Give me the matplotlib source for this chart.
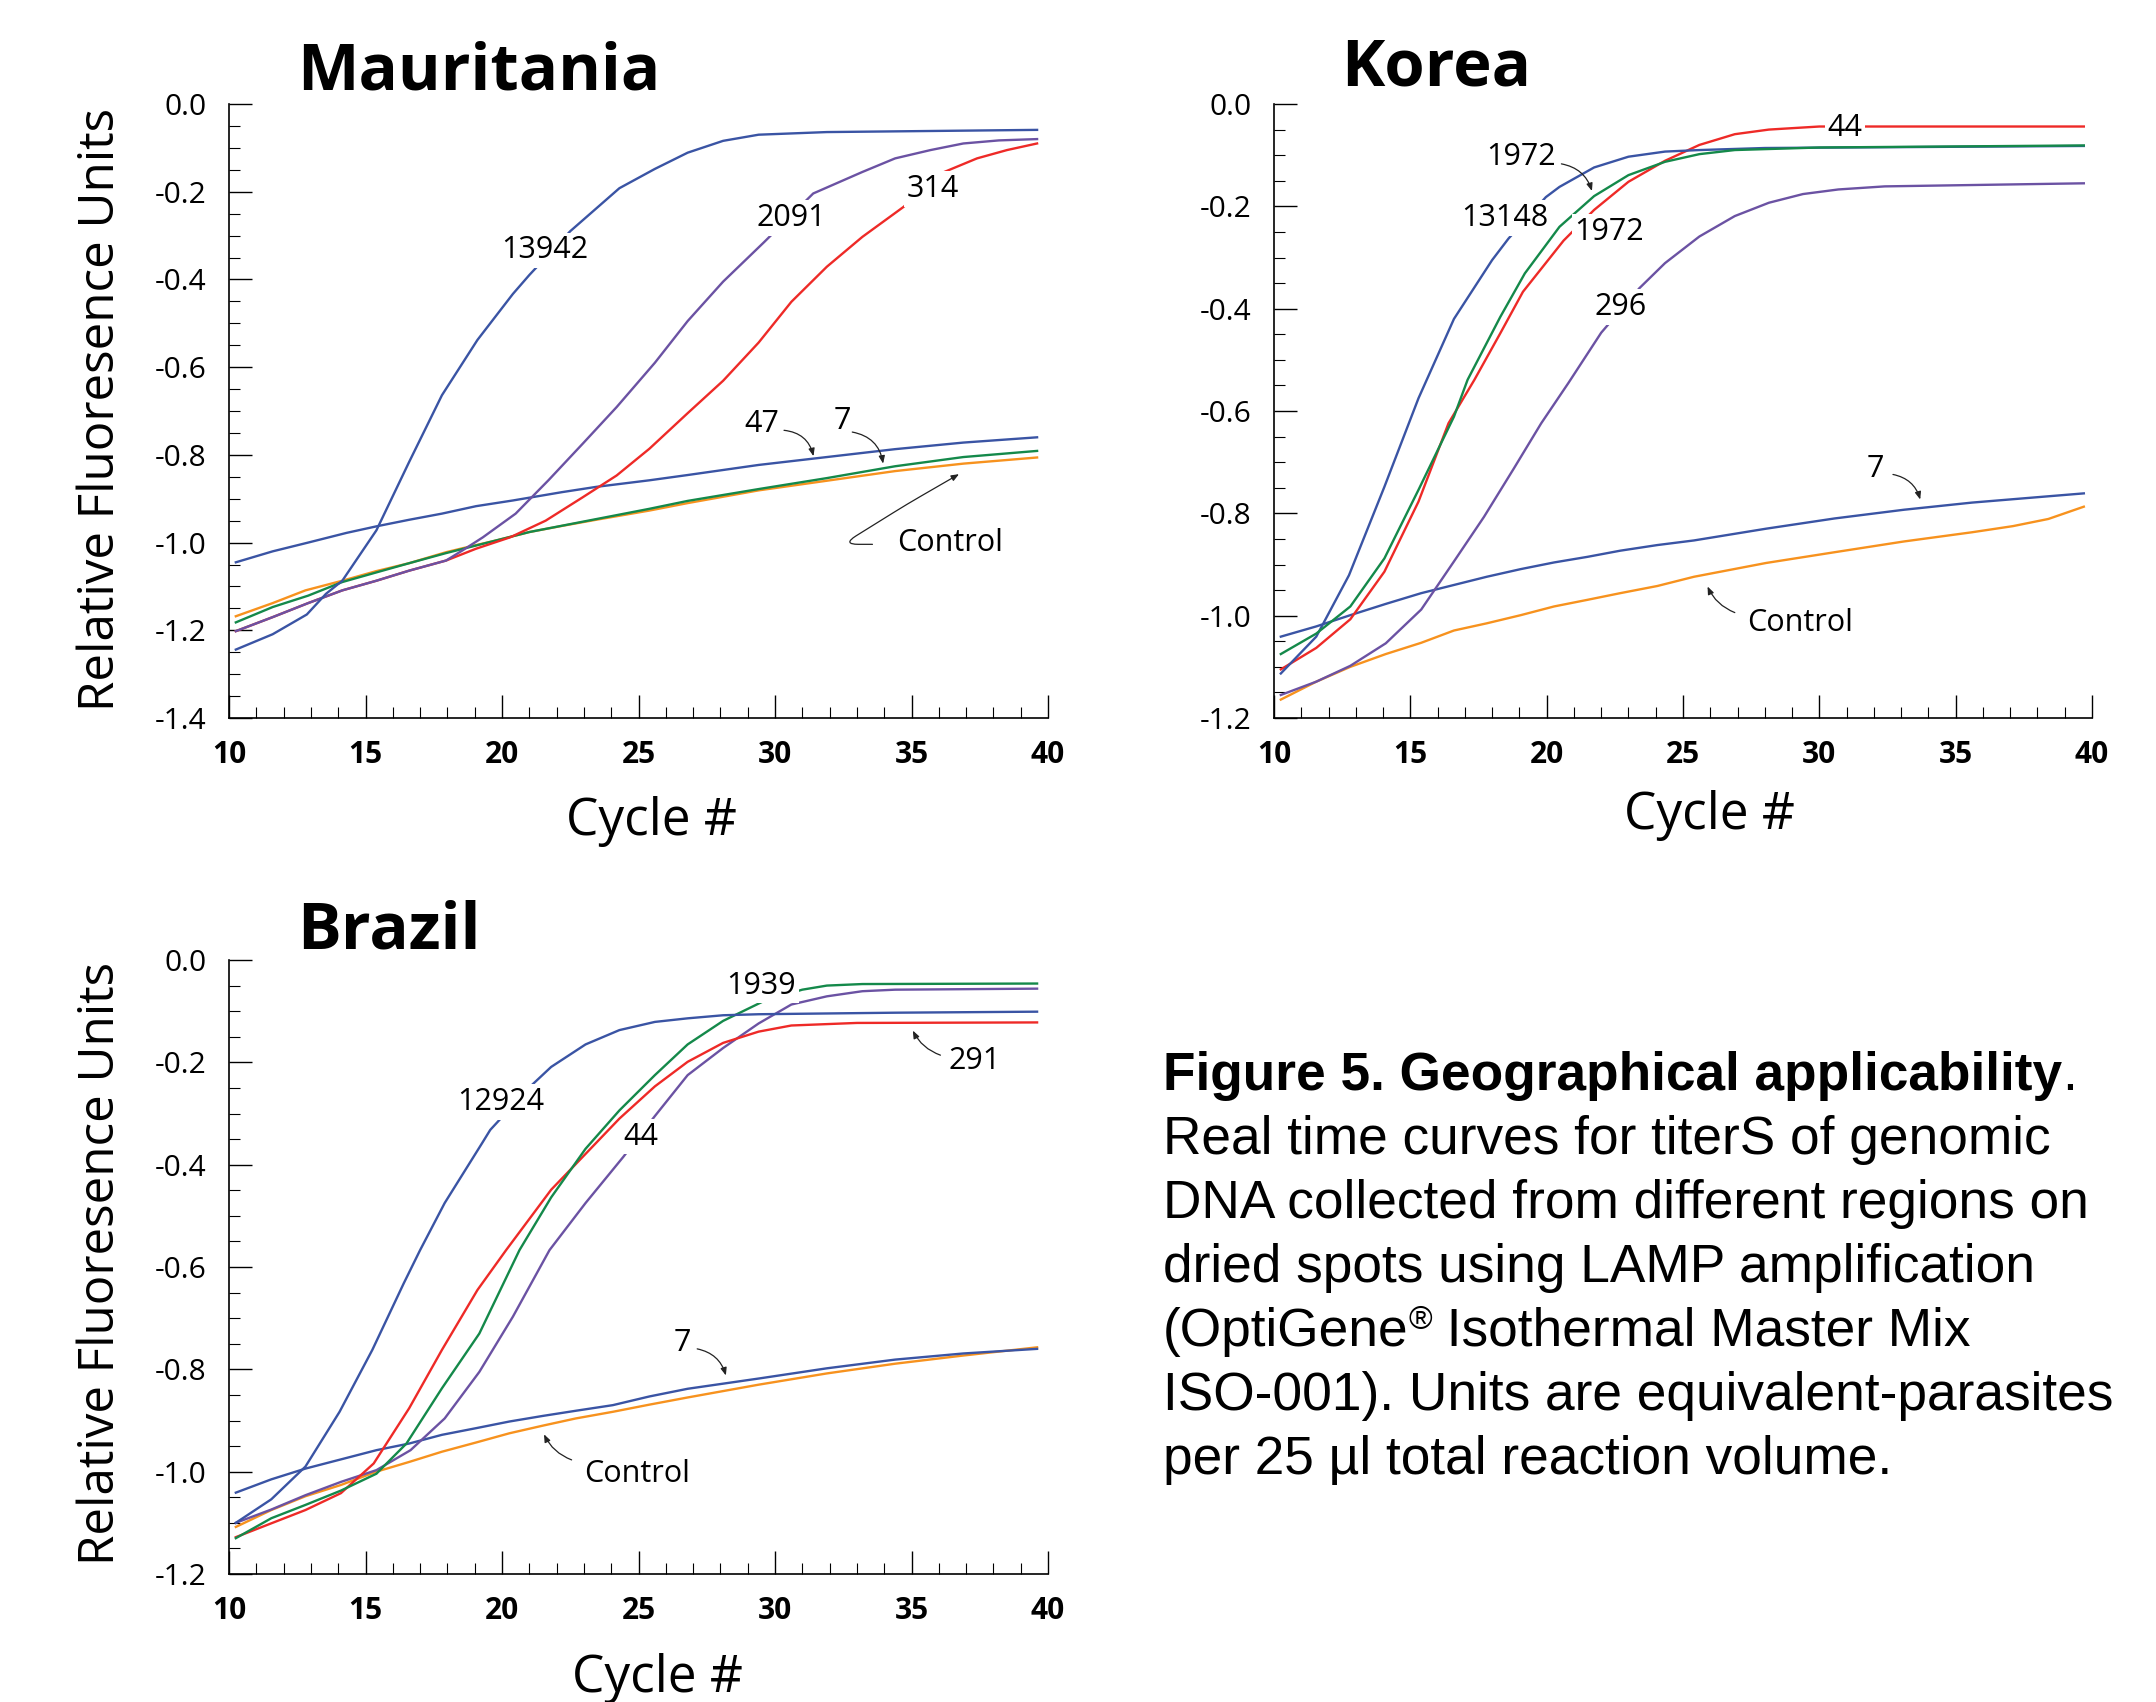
import matplotlib
matplotlib.use('Agg')
import matplotlib.pyplot as plt
from matplotlib.ticker import MultipleLocator, FormatStrFormatter

plt.rcParams['font.family'] = ['Open Sans', 'DejaVu Sans']
plt.rcParams['axes.unicode_minus'] = False

# cores das curvas
azul = '#3a54a4'
roxo = '#6b52a3'
vermelho = '#ee2a27'
verde = '#14894a'
laranja = '#f7921e'

# ---------------- Mauritania ----------------
mau_13942_x = [10.25, 11.6, 12.85, 13.55, 14.15, 15.4, 16.6, 17.8, 19.1, 20.4, 21.0, 22.5, 24.3, 25.6, 26.8, 28.1, 29.4, 31.9, 35.0, 39.6]
mau_13942_y = [-1.244, -1.209, -1.164, -1.117, -1.087, -0.972, -0.816, -0.664, -0.538, -0.433, -0.39, -0.29, -0.192, -0.148, -0.111, -0.084, -0.07, -0.064, -0.062, -0.059]

mau_2091_x = [10.25, 11.6, 12.9, 14.15, 15.4, 16.6, 17.95, 18.55, 19.3, 20.5, 21.7, 22.95, 24.2, 25.6, 26.8, 28.1, 29.6, 31.4, 33.2, 34.4, 35.7, 36.9, 38.2, 39.6]
mau_2091_y = [-1.202, -1.17, -1.138, -1.109, -1.087, -1.064, -1.041, -1.018, -0.988, -0.934, -0.858, -0.775, -0.691, -0.59, -0.495, -0.405, -0.315, -0.204, -0.155, -0.124, -0.105, -0.09, -0.083, -0.08]

mau_314_x = [10.25, 11.6, 12.9, 14.15, 15.4, 16.6, 17.95, 19.05, 20.3, 21.6, 22.95, 24.2, 25.4, 26.8, 28.1, 29.4, 30.6, 31.9, 33.2, 34.7, 36.2, 37.4, 38.5, 39.6]
mau_314_y = [-1.202, -1.17, -1.138, -1.109, -1.087, -1.064, -1.041, -1.014, -0.988, -0.95, -0.897, -0.847, -0.786, -0.705, -0.631, -0.544, -0.451, -0.371, -0.303, -0.235, -0.155, -0.124, -0.105, -0.09]

mau_47_x = [10.25, 11.6, 12.9, 14.3, 15.4, 16.6, 17.8, 19.05, 20.4, 22.2, 23.45, 25.4, 26.8, 29.4, 31.9, 34.4, 36.9, 39.6]
mau_47_y = [-1.045, -1.02, -1.0, -0.978, -0.963, -0.948, -0.934, -0.917, -0.904, -0.885, -0.873, -0.858, -0.846, -0.823, -0.805, -0.787, -0.772, -0.76]

mau_7_x = [10.25, 11.6, 12.9, 14.15, 15.4, 16.6, 17.95, 21.0, 25.4, 26.8, 29.4, 31.9, 34.4, 36.9, 39.6]
mau_7_y = [-1.182, -1.147, -1.121, -1.09, -1.068, -1.047, -1.024, -0.976, -0.923, -0.905, -0.878, -0.853, -0.826, -0.805, -0.791]

mau_ctrl_x = [10.25, 11.6, 12.8, 14.15, 15.4, 16.6, 17.95, 18.55, 19.8, 21.0, 22.2, 23.45, 25.4, 26.8, 29.4, 31.9, 34.4, 36.9, 39.6]
mau_ctrl_y = [-1.168, -1.138, -1.109, -1.087, -1.065, -1.047, -1.022, -1.013, -0.995, -0.976, -0.962, -0.948, -0.927, -0.91, -0.881, -0.859, -0.837, -0.82, -0.806]

# ---------------- Korea ----------------
kor_13148_x = [10.25, 11.55, 12.75, 14.05, 15.3, 16.6, 18.0, 18.6, 19.97, 20.47, 21.74, 23.0, 24.34, 25.6, 28.0, 39.7]
kor_13148_y = [-1.113, -1.041, -0.921, -0.748, -0.575, -0.42, -0.305, -0.263, -0.182, -0.162, -0.124, -0.103, -0.093, -0.09, -0.086, -0.082]

kor_1972g_x = [10.25, 11.55, 12.8, 14.05, 15.3, 16.6, 17.1, 18.3, 19.2, 20.47, 21.74, 23.0, 24.34, 25.6, 26.9, 30.0, 39.7]
kor_1972g_y = [-1.075, -1.035, -0.982, -0.888, -0.754, -0.611, -0.539, -0.416, -0.331, -0.24, -0.18, -0.139, -0.113, -0.098, -0.09, -0.085, -0.081]

kor_1972r_x = [10.25, 11.55, 12.8, 14.05, 15.3, 16.4, 17.35, 18.3, 19.13, 20.62, 21.74, 23.0, 24.34, 25.6, 26.9, 28.15, 30.0, 39.7]
kor_1972r_y = [-1.105, -1.063, -1.007, -0.914, -0.777, -0.624, -0.539, -0.448, -0.367, -0.267, -0.207, -0.152, -0.111, -0.08, -0.059, -0.05, -0.044, -0.044]

kor_296_x = [10.25, 11.55, 12.8, 14.1, 15.4, 16.6, 17.7, 18.8, 19.8, 20.8, 22.0, 23.4, 24.34, 25.6, 26.9, 28.15, 29.4, 30.7, 32.4, 39.7]
kor_296_y = [-1.155, -1.129, -1.098, -1.054, -0.988, -0.894, -0.807, -0.712, -0.624, -0.545, -0.447, -0.36, -0.311, -0.259, -0.219, -0.193, -0.176, -0.167, -0.161, -0.155]

kor_7_x = [10.25, 11.55, 12.8, 14.1, 15.4, 16.6, 17.8, 19.05, 20.27, 21.5, 22.7, 24.06, 25.4, 28.05, 30.56, 33.1, 35.6, 38.1, 39.7]
kor_7_y = [-1.041, -1.021, -0.999, -0.977, -0.956, -0.94, -0.924, -0.909, -0.896, -0.885, -0.873, -0.862, -0.853, -0.83, -0.81, -0.793, -0.779, -0.768, -0.761]

kor_ctrl_x = [10.25, 11.55, 12.8, 14.1, 15.4, 16.6, 17.8, 19.05, 20.27, 21.5, 22.7, 24.06, 25.4, 28.05, 30.56, 33.1, 35.6, 37.1, 38.4, 39.7]
kor_ctrl_y = [-1.164, -1.129, -1.1, -1.075, -1.053, -1.029, -1.015, -0.999, -0.982, -0.969, -0.956, -0.942, -0.924, -0.897, -0.876, -0.855, -0.837, -0.825, -0.811, -0.787]

# ---------------- Brazil ----------------
bra_12924_x = [10.25, 11.55, 12.8, 14.05, 15.25, 16.4, 17.0, 17.9, 19.27, 19.57, 21.04, 21.8, 23.06, 24.3, 25.6, 26.8, 28.1, 29.4, 34.4, 39.6]
bra_12924_y = [-1.1, -1.054, -0.99, -0.883, -0.762, -0.632, -0.567, -0.475, -0.358, -0.332, -0.247, -0.209, -0.165, -0.137, -0.121, -0.114, -0.108, -0.106, -0.103, -0.101]

bra_1939_x = [10.25, 11.55, 12.8, 14.1, 15.4, 16.5, 17.8, 19.17, 20.64, 21.8, 23.06, 24.3, 25.6, 26.8, 28.1, 29.6, 31.0, 31.9, 33.2, 39.6]
bra_1939_y = [-1.13, -1.091, -1.065, -1.037, -1.004, -0.945, -0.837, -0.73, -0.567, -0.464, -0.369, -0.294, -0.225, -0.165, -0.119, -0.08, -0.058, -0.05, -0.047, -0.046]

bra_291_x = [10.25, 11.5, 12.8, 14.1, 15.3, 16.6, 17.8, 19.1, 20.15, 21.8, 23.06, 24.3, 25.6, 26.8, 28.1, 29.4, 30.6, 33.0, 39.6]
bra_291_y = [-1.128, -1.102, -1.075, -1.042, -0.984, -0.876, -0.762, -0.645, -0.567, -0.449, -0.379, -0.31, -0.247, -0.199, -0.162, -0.14, -0.128, -0.123, -0.122]

bra_44_x = [10.25, 11.55, 12.8, 14.1, 15.4, 16.65, 17.9, 19.17, 20.4, 21.74, 23.06, 24.44, 25.6, 26.8, 28.1, 29.4, 30.6, 31.9, 33.2, 34.4, 39.6]
bra_44_y = [-1.1, -1.074, -1.046, -1.02, -0.997, -0.958, -0.896, -0.805, -0.697, -0.567, -0.475, -0.385, -0.305, -0.225, -0.172, -0.124, -0.087, -0.071, -0.061, -0.058, -0.056]

bra_7_x = [10.25, 11.55, 12.8, 14.1, 15.4, 16.6, 17.8, 19.05, 20.27, 21.5, 22.7, 24.06, 25.4, 26.8, 29.4, 31.9, 34.4, 36.9, 39.6]
bra_7_y = [-1.041, -1.015, -0.994, -0.976, -0.958, -0.945, -0.928, -0.915, -0.902, -0.891, -0.881, -0.87, -0.853, -0.838, -0.818, -0.798, -0.781, -0.769, -0.76]

bra_ctrl_x = [10.25, 11.55, 12.8, 14.1, 15.4, 16.6, 17.8, 19.05, 20.27, 21.5, 22.7, 24.06, 25.4, 26.8, 29.4, 31.9, 34.4, 36.9, 39.6]
bra_ctrl_y = [-1.108, -1.075, -1.048, -1.026, -1.0, -0.981, -0.961, -0.943, -0.925, -0.91, -0.896, -0.883, -0.869, -0.855, -0.83, -0.808, -0.789, -0.773, -0.757]

legenda = [
    ('Figure 5. Geographical applicability', '.'),
    'Real time curves for titerS of genomic',
    'DNA collected from different regions on',
    'dried spots using LAMP amplification',
    ('(OptiGene', '\u00ae', ' Isothermal Master Mix'),
    'ISO-001). Units are equivalent-parasites',
    'per 25 \u00b5l total reaction volume.',
]

# tamanho da figura em pixels
W, H = 2156, 1702
fig = plt.figure(figsize=(W / 100, H / 100), dpi=100)

LW = 1.7
FS_ROT = 22


def cria_painel(esq, topo, dir, base, ymin):
    ax = fig.add_axes([esq / W, 1 - base / H, (dir - esq) / W, (base - topo) / H])
    ax.set_xlim(10, 40)
    ax.set_ylim(ymin, 0)
    ax.spines['top'].set_visible(False)
    ax.spines['right'].set_visible(False)
    ax.spines['left'].set_linewidth(1.2)
    ax.spines['bottom'].set_linewidth(1.2)
    ax.xaxis.set_major_locator(MultipleLocator(5))
    ax.xaxis.set_minor_locator(MultipleLocator(1))
    ax.yaxis.set_major_locator(MultipleLocator(0.2))
    ax.yaxis.set_minor_locator(MultipleLocator(0.05))
    ax.yaxis.set_major_formatter(FormatStrFormatter('%.1f'))
    ax.tick_params(which='major', direction='in', length=16.5, width=1.0)
    ax.tick_params(which='minor', direction='in', length=8.0, width=0.8)
    ax.tick_params(axis='x', which='major', pad=16, labelsize=21.5)
    ax.tick_params(axis='y', which='major', pad=16, labelsize=21.5)
    for t in ax.get_xticklabels():
        t.set_fontweight('bold')
    return ax


def rotulo(ax, texto, x, y):
    ax.text(x, y, texto, ha='center', va='center', fontsize=FS_ROT, zorder=5,
            bbox=dict(facecolor='white', edgecolor='none', pad=2))


def seta(ax, x0, y0, x1, y1, estilo):
    ax.annotate('', xy=(x1, y1), xytext=(x0, y0), zorder=6,
                arrowprops=dict(arrowstyle='-|>,head_length=0.45,head_width=0.18',
                                color='#222222', lw=0.9, shrinkA=0, shrinkB=0,
                                connectionstyle=estilo))


# Mauritania
ax1 = cria_painel(229, 104, 1048, 718, -1.4)
ax1.plot(mau_47_x, mau_47_y, color=azul, lw=LW)
ax1.plot(mau_ctrl_x, mau_ctrl_y, color=laranja, lw=LW)
ax1.plot(mau_7_x, mau_7_y, color=verde, lw=LW)
ax1.plot(mau_314_x, mau_314_y, color=vermelho, lw=LW)
ax1.plot(mau_2091_x, mau_2091_y, color=roxo, lw=LW)
ax1.plot(mau_13942_x, mau_13942_y, color=azul, lw=LW)
rotulo(ax1, '13942', 21.55, -0.334)
rotulo(ax1, '2091', 30.6, -0.26)
rotulo(ax1, '314', 35.8, -0.194)
ax1.text(29.5, -0.73, '47', ha='center', va='center', fontsize=FS_ROT)
ax1.text(32.45, -0.723, '7', ha='center', va='center', fontsize=FS_ROT)
ax1.text(34.46, -1.002, 'Control', ha='left', va='center', fontsize=FS_ROT)
seta(ax1, 30.33, -0.744, 31.41, -0.803, 'arc3,rad=-0.35')
seta(ax1, 32.83, -0.748, 33.96, -0.82, 'arc3,rad=-0.35')
seta(ax1, 33.57, -1.004, 36.74, -0.844, 'arc,angleA=180,armA=30,angleB=210,armB=60,rad=16')

# Korea
ax2 = cria_painel(1274, 104, 2092, 718, -1.2)
ax2.plot(kor_ctrl_x, kor_ctrl_y, color=laranja, lw=LW)
ax2.plot(kor_7_x, kor_7_y, color=azul, lw=LW)
ax2.plot(kor_296_x, kor_296_y, color=roxo, lw=LW)
ax2.plot(kor_1972r_x, kor_1972r_y, color=vermelho, lw=LW)
ax2.plot(kor_13148_x, kor_13148_y, color=azul, lw=LW)
ax2.plot(kor_1972g_x, kor_1972g_y, color=verde, lw=LW)
rotulo(ax2, '1972', 19.05, -0.104)
rotulo(ax2, '13148', 18.45, -0.223)
rotulo(ax2, '1972', 22.3, -0.25)
rotulo(ax2, '44', 30.95, -0.046)
rotulo(ax2, '296', 22.73, -0.397)
ax2.text(32.07, -0.713, '7', ha='center', va='center', fontsize=FS_ROT)
ax2.text(29.3, -1.015, 'Control', ha='center', va='center', fontsize=FS_ROT)
seta(ax2, 20.54, -0.117, 21.66, -0.17, 'arc3,rad=-0.3')
seta(ax2, 32.7, -0.724, 33.7, -0.773, 'arc3,rad=-0.3')
seta(ax2, 26.9, -0.994, 25.9, -0.943, 'arc3,rad=-0.2')

# Brazil
ax3 = cria_painel(229, 960, 1048, 1574, -1.2)
ax3.plot(bra_ctrl_x, bra_ctrl_y, color=laranja, lw=LW)
ax3.plot(bra_7_x, bra_7_y, color=azul, lw=LW)
ax3.plot(bra_44_x, bra_44_y, color=roxo, lw=LW)
ax3.plot(bra_291_x, bra_291_y, color=vermelho, lw=LW)
ax3.plot(bra_1939_x, bra_1939_y, color=verde, lw=LW)
ax3.plot(bra_12924_x, bra_12924_y, color=azul, lw=LW)
rotulo(ax3, '12924', 19.97, -0.278)
rotulo(ax3, '1939', 29.5, -0.05)
rotulo(ax3, '44', 25.1, -0.345)
ax3.text(37.3, -0.197, '291', ha='center', va='center', fontsize=FS_ROT)
ax3.text(26.6, -0.749, '7', ha='center', va='center', fontsize=FS_ROT)
ax3.text(24.95, -1.004, 'Control', ha='center', va='center', fontsize=FS_ROT)
seta(ax3, 36.06, -0.186, 35.05, -0.138, 'arc3,rad=-0.2')
seta(ax3, 27.15, -0.76, 28.2, -0.812, 'arc3,rad=-0.3')
seta(ax3, 22.55, -0.977, 21.54, -0.927, 'arc3,rad=-0.2')

# titulos dos paineis
fig.text(297 / W, 1 - 89 / H, 'Mauritania', fontsize=47, fontweight='bold', va='baseline')
fig.text(1341 / W, 1 - 86 / H, 'Korea', fontsize=47, fontweight='bold', va='baseline')
fig.text(297 / W, 1 - 948 / H, 'Brazil', fontsize=47, fontweight='bold', va='baseline')

# rotulos dos eixos
fig.text(101 / W, 1 - 409 / H, 'Relative Fluoresence Units', fontsize=35.5,
         rotation=90, ha='center', va='center')
fig.text(101 / W, 1 - 1263 / H, 'Relative Fluoresence Units', fontsize=35.5,
         rotation=90, ha='center', va='center')
fig.text(652 / W, 1 - 835 / H, 'Cycle #', fontsize=37, ha='center', va='baseline')
fig.text(1709 / W, 1 - 829 / H, 'Cycle #', fontsize=37, ha='center', va='baseline')
fig.text(657 / W, 1 - 1692 / H, 'Cycle #', fontsize=37, ha='center', va='baseline')

# legenda da figura
renderer = fig.canvas.get_renderer()
fonte_leg = ['Liberation Sans', 'DejaVu Sans']
x_leg = 1163
for i, linha in enumerate(legenda):
    y = 1 - (1090 + 64 * i) / H
    if isinstance(linha, str):
        fig.text(x_leg / W, y, linha, fontsize=38.3, family=fonte_leg, va='baseline')
        continue
    x = x_leg
    for j, parte in enumerate(linha):
        peso = 'bold' if (len(linha) == 2 and j == 0) else 'normal'
        tam = 38.3
        yy = y
        if parte == '\u00ae':
            tam = 23
            yy = y + 17 / H
        t = fig.text(x / W, yy, parte, fontsize=tam, family=fonte_leg,
                     fontweight=peso, va='baseline')
        x += t.get_window_extent(renderer).width

fig.savefig('out.png', dpi=100)
